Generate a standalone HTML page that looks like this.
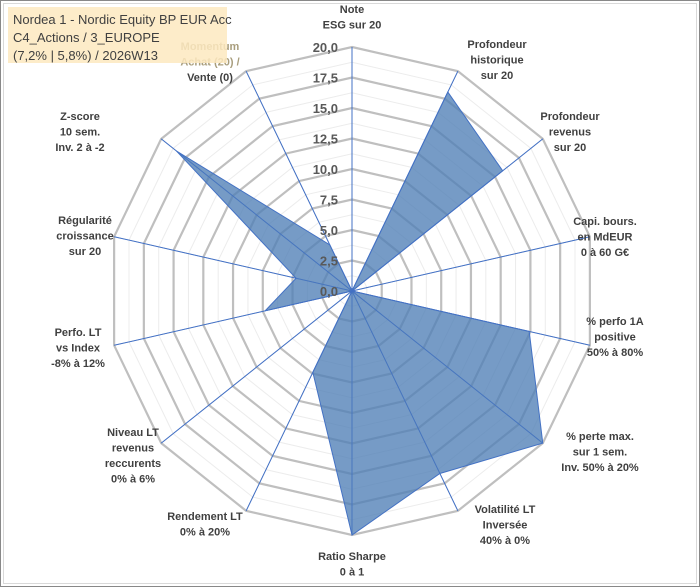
<!DOCTYPE html>
<html><head><meta charset="utf-8"><style>
body{margin:0;background:#fff;}
svg{display:block;font-family:"Liberation Sans",Arial,sans-serif;}
.lbl{font-size:11px;font-weight:bold;fill:#404040;text-anchor:middle;}
.tick{font-size:13px;font-weight:bold;fill:#595959;text-anchor:end;}
</style></head><body>
<svg width="700" height="587" viewBox="0 0 700 587">
<rect x="0.5" y="0.5" width="699" height="586" fill="#fff" stroke="#888"/>
<rect x="3.5" y="3.5" width="693" height="580" fill="none" stroke="#d9d9d9"/>
<g id="grid"></g>
<g id="series"></g>
<g id="ticks"></g>
<g id="labels"></g>
<rect x="8" y="7" width="219" height="56" fill="#fde9c0" opacity="0.85"/>
<text x="13" y="24" font-family="'Liberation Sans',sans-serif" font-size="13" fill="#404040">Nordea 1 - Nordic Equity BP EUR Acc</text>
<text x="13" y="42" font-size="13" fill="#404040">C4_Actions / 3_EUROPE</text>
<text x="13" y="60" font-size="13" fill="#404040">(7,2% | 5,8%) / 2026W13</text>
</svg>
<script>
const categories=[["Note","ESG sur 20"],["Profondeur","historique","sur 20"],["Profondeur","revenus","sur 20"],["Capi. bours.","en MdEUR","0 à 60 G€"],["% perfo 1A","positive","50% à 80%"],["% perte max.","sur 1 sem.","Inv. 50% à 20%"],["Volatilité LT","Inversée","40% à 0%"],["Ratio Sharpe","0 à 1"],["Rendement LT","0% à 20%"],["Niveau LT","revenus","reccurents","0% à 6%"],["Perfo. LT","vs Index","-8% à 12%"],["Régularité","croissance","sur 20"],["Z-score","10 sem.","Inv. 2 à -2"],["Momentum","Achat (20) /","Vente (0)"]];
const values=[0,18.1,15.8,0,14.9,20,16.6,20,7.4,0,7.3,4.7,18.4,4.2];
const tickLabels=["0,0","2,5","5,0","7,5","10,0","12,5","15,0","17,5","20,0"];
const labelPos=[[352,13],[497,48],[570,120],[605,225],[615,325],[600,440],[505,513],[352,560],[205,520],[133,436],[78,336],[85,224],[80,120],[210,50]];
const cx=352,cy=291,R=244,maxV=20,N=categories.length;
const NS="http://www.w3.org/2000/svg";
function pt(i,v){const a=2*Math.PI*i/N;const r=v/maxV*R;return [cx+r*Math.sin(a),cy-r*Math.cos(a)];}
function mk(tag,attrs,parent){const e=document.createElementNS(NS,tag);for(const k in attrs)e.setAttribute(k,attrs[k]);parent.appendChild(e);return e;}
const grid=document.getElementById('grid');
for(let k=1;k<=16;k++){const v=k*1.25;const pts=[];for(let i=0;i<N;i++)pts.push(pt(i,v).join(','));
 const major=k%2===0;
 const p=mk('polygon',{points:pts.join(' '),fill:'none',stroke:major?'#bfbfbf':'#ececec','stroke-width':major?2.2:1},grid);
 
 }
for(let i=0;i<N;i++){const e=pt(i,maxV);const l=mk('line',{x1:cx,y1:cy,x2:e[0],y2:e[1],stroke:'#4472c4','stroke-width':1},grid);
 
 }
const ser=document.getElementById('series');
const sp=values.map((v,i)=>pt(i,v).join(',')).join(' ');
const poly=mk('polygon',{points:sp,fill:'#4f7fb6','fill-opacity':0.78,stroke:'#4472c4','stroke-width':1},ser);


for(let i=0;i<N;i++){const e=pt(i,maxV);const l=mk('line',{x1:cx,y1:cy,x2:e[0],y2:e[1],stroke:'#4472c4','stroke-width':0.8,'stroke-opacity':0.6},ser);
 
 }
const tk=document.getElementById('ticks');
tickLabels.forEach((t,j)=>{const y=cy-(j*2.5)/maxV*R;const e=mk('text',{x:338,y:y+5,class:'tick'},tk);e.textContent=t;
 
 });
const lb=document.getElementById('labels');
categories.forEach((lines,i)=>{const [x,y]=labelPos[i];const t=mk('text',{x:x,y:y,class:'lbl'},lb);
 
 
 lines.forEach((s,j)=>{const ts=mk('tspan',{x:x,y:y+j*15.5},t);ts.textContent=s;
  if(i===13&&j<2){ts.setAttribute('fill','#a89d7c');}});
});
</script>
</body></html>
